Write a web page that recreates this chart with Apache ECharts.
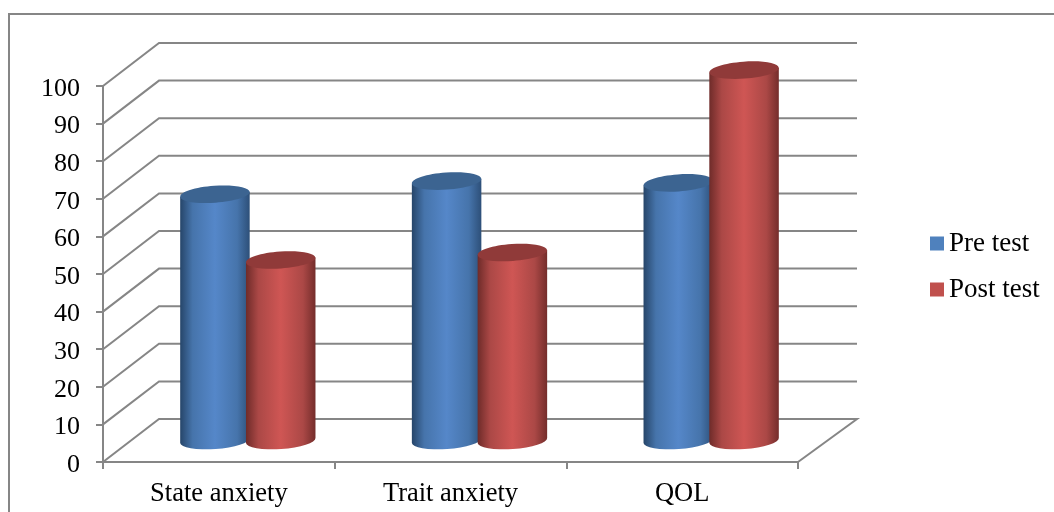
<!DOCTYPE html>
<html>
<head>
<meta charset="utf-8">
<style>
  html, body { margin: 0; padding: 0; background: #fff; }
  #chart { width: 1054px; height: 512px; }
</style>
<script src="https://cdn.jsdelivr.net/npm/echarts@6/dist/echarts.min.js"></script>
</head>
<body>
<div id="chart"></div>
<script>
const categories = ["State anxiety", "Trait anxiety", "QOL"];
const preTest = [65.5, 69, 68.5];
const postTest = [48, 50, 98.5];
const yTicks = [0, 10, 20, 30, 40, 50, 60, 70, 80, 90, 100];

const fontFamily = '"Liberation Serif", "Times New Roman", serif';
const lineGrey = "#868686";

// fake 3D: how far the back wall sits from the front plane
const depthX = 56;
const depthY = -43;
const backRightExtra = 3;
const barShift = 1;
const barWidthShare = 0.3;
const barOffsetShare = 0.142;
const tilt = 4; // degrees, ellipses lean up to the right
const capRy = 8.5;

function sideGradient(edgeL, mid1, mid2, edgeR) {
  return new echarts.graphic.LinearGradient(0, 0, 1, 0, [
    { offset: 0, color: edgeL },
    { offset: 0.18, color: mid1 },
    { offset: 0.5, color: mid2 },
    { offset: 0.82, color: mid1 },
    { offset: 1, color: edgeR },
  ]);
}

function wallItem(params, api) {
  const sys = params.coordSys;
  const y = api.coord([0, api.value(1)])[1];
  const left = sys.x;
  const right = sys.x + sys.width;
  const points = [
    [left, y],
    [left + depthX, y + depthY],
    [right + depthX + backRightExtra, y + depthY],
  ];
  if (api.value(1) === 0) {
    points.push([right, y]);
  }
  return {
    type: "polyline",
    shape: { points },
    style: { fill: null, stroke: lineGrey, lineWidth: 2 },
  };
}

function cylinderItem(side, bodyFill, capColor) {
  return function (params, api) {
    const band = api.size([1, 0])[0];
    const rx = (band * barWidthShare) / 2;
    const cx = api.coord([api.value(0), 0])[0] + depthX / 2 + barShift + side * band * barOffsetShare;
    const topY = api.coord([0, api.value(1)])[1] + depthY / 2;
    const baseY = api.coord([0, 0])[1] + depthY / 2;
    const lean = rx * Math.sin((tilt * Math.PI) / 180);
    const xl = cx - rx;
    const xr = cx + rx;
    const pathData =
      `M${xl} ${topY + lean}L${xl} ${baseY + lean}` +
      `A${rx} ${capRy} ${-tilt} 0 0 ${xr} ${baseY - lean}` +
      `L${xr} ${topY - lean}Z`;
    return {
      type: "group",
      children: [
        { type: "path", shape: { pathData }, style: { fill: bodyFill } },
        {
          type: "ellipse",
          x: cx,
          y: topY,
          rotation: (tilt * Math.PI) / 180,
          shape: { cx: 0, cy: 0, rx, ry: capRy },
          style: { fill: capColor },
        },
      ],
    };
  };
}

const chart = echarts.init(document.getElementById("chart"), null, { renderer: "canvas" });

chart.setOption({
  animation: false,
  backgroundColor: "#ffffff",
  textStyle: { fontFamily },
  grid: { left: 103, top: 86, width: 695, height: 376 },
  legend: {
    orient: "vertical",
    left: 930,
    top: 230,
    padding: 0,
    itemWidth: 14,
    itemHeight: 14,
    itemGap: 19,
    itemStyle: { borderWidth: 0 },
    icon: "rect",
    data: ["Pre test", "Post test"],
    textStyle: { fontFamily, fontSize: 27, color: "#000" },
  },
  xAxis: {
    type: "category",
    data: categories,
    axisLine: { lineStyle: { color: lineGrey, width: 2 } },
    axisTick: { show: true, alignWithLabel: false, length: 7, lineStyle: { color: lineGrey, width: 2 } },
    axisLabel: { color: "#000", fontFamily, fontSize: 26.5, margin: 19 },
    splitLine: { show: false },
  },
  yAxis: {
    type: "value",
    min: 0,
    max: 100,
    interval: 10,
    axisLine: { show: true, lineStyle: { color: lineGrey, width: 2 } },
    axisTick: { show: true, length: 7, lineStyle: { color: lineGrey, width: 2 } },
    axisLabel: { color: "#000", fontFamily, fontSize: 26, margin: 23, verticalAlign: "top", lineHeight: 6 },
    splitLine: { show: false },
  },
  graphic: [
    {
      type: "rect",
      silent: true,
      shape: { x: 9, y: 14, width: 1100, height: 600 },
      style: { fill: null, stroke: lineGrey, lineWidth: 2 },
    },
  ],
  series: [
    {
      type: "custom",
      name: "wall",
      silent: true,
      z: 1,
      data: yTicks.map((v) => [0, v]),
      renderItem: wallItem,
    },
    {
      type: "custom",
      name: "Pre test",
      z: 2,
      itemStyle: { color: "#4f81bd" },
      data: preTest.map((v, i) => [i, v]),
      renderItem: cylinderItem(-1, sideGradient("#264569", "#4674ab", "#5587c9", "#2d4f78"), "#3c6491"),
    },
    {
      type: "custom",
      name: "Post test",
      z: 3,
      itemStyle: { color: "#c0504d" },
      data: postTest.map((v, i) => [i, v]),
      renderItem: cylinderItem(1, sideGradient("#6e2b29", "#ab4846", "#cf5654", "#742d2b"), "#903a39"),
    },
  ],
});
</script>
</body>
</html>
